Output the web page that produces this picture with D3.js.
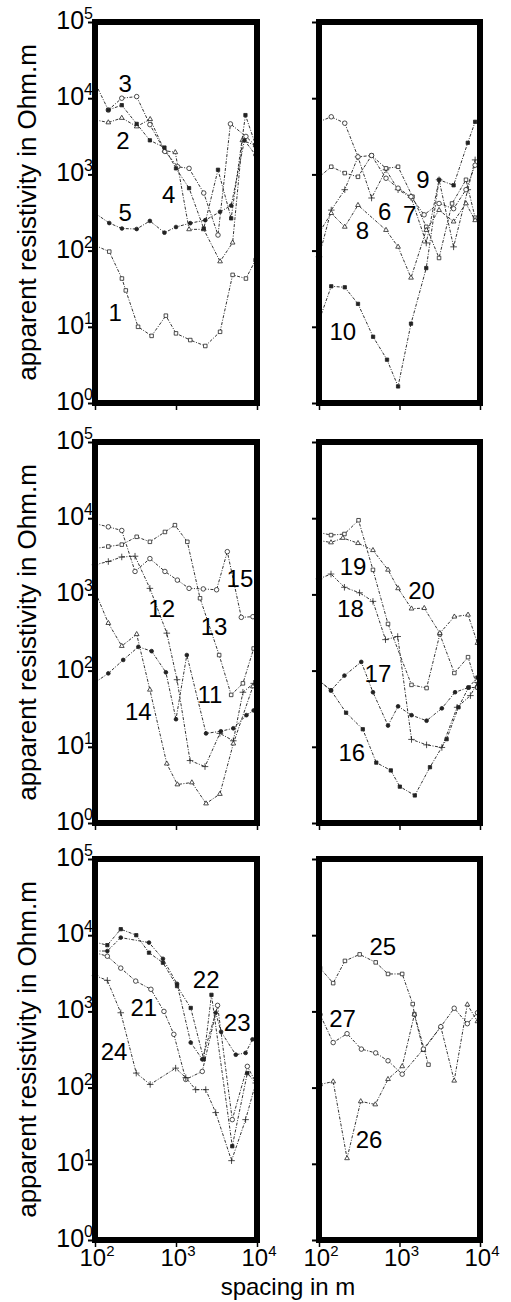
<!DOCTYPE html>
<html>
<head>
<meta charset="utf-8">
<script src="https://cdn.jsdelivr.net/npm/d3@7"></script>
<style>
  body { margin: 0; background: #fff; }
  text { font-family: "Liberation Sans", Arial, sans-serif; fill: #000; }
</style>
</head>
<body>
<div id="chart"></div>
<script>
/* apparent resistivity vs spacing, six log-log panels */

// axis ticks
const yTicks = [1, 10, 100, 1000, 10000, 100000];
const yTickExp = ["0", "1", "2", "3", "4", "5"];
const xTicks = [100, 1000, 10000];
const xTickExp = ["2", "3", "4"];

// [spacing in m, apparent resistivity in Ohm.m]
const curve1 = [[100,117],[150,97],[215,43],[240,30],[340,10],[500,7.6],[750,14],[1000,8.2],[1500,6.7],[2300,5.6],[3500,8.6],[5000,48],[7300,43],[9600,75]];
const curve2 = [[100,5200],[146,4800],[214,5500],[327,4250],[480,5300],[720,2050],[980,1950],[1450,190],[2200,190],[3500,72],[5000,127],[6600,2800],[9600,2400]];
const curve3 = [[100,16000],[146,7000],[214,10000],[327,10500],[476,4500],[730,2000],[1050,1260],[1450,1200],[2200,570],[3300,160],[4700,4600],[7300,3150],[9900,2300]];
const curve4 = [[146,7000],[214,8100],[327,4600],[476,2800],[720,2250],[1000,1200],[1450,660],[2200,195],[3300,1150],[4800,265],[7200,6000],[9600,2450]];
const curve5 = [[100,310],[150,230],[215,195],[327,192],[476,245],[720,172],[1000,204],[1500,229],[2300,251],[3500,323],[4800,390],[7000,2800],[9600,1800]];

const curve6 = [[100,83],[142,340],[209,630],[305,1700],[450,490],[680,1150],[960,630],[1390,500],[2150,126],[3100,850],[4700,112],[7050,630],[8700,1550]];
const curve7 = [[100,920],[142,1260],[209,1040],[305,930],[450,1770],[680,1200],[960,1260],[1450,510],[2150,205],[3100,80],[4500,415],[6700,850],[8700,270]];
const curve8 = [[100,170],[142,310],[209,205],[305,395],[680,186],[960,112],[1390,44],[2150,186],[3100,340],[4700,240],[6700,415],[8700,250]];
const curve9 = [[100,4900],[142,5700],[209,4700],[305,1700],[450,1770],[680,890],[960,660],[1390,510],[2020,295],[3100,415],[4700,355],[6700,630],[8700,1320]];
const curve10 = [[100,12],[142,34],[209,33],[305,20],[470,7.4],[700,3.7],[960,1.65],[1390,11],[2150,59],[3100,850],[4700,720],[7050,2600],[8700,4900]];

const curve11 = [[100,70],[146,92],[223,138],[343,205],[500,180],[750,95],[1000,23],[1360,160],[2350,15],[3580,16],[5100,17.5],[7400,26],[9100,30]];
const curve12 = [[100,2450],[146,2700],[214,3100],[312,3170],[476,1200],[770,310],[1030,76],[1490,6.6],[2280,5.5],[3480,15],[5100,12],[6700,52],[9100,68]];
const curve13 = [[100,4000],[146,4250],[214,4500],[327,5700],[476,4900],[730,6600],[970,8100],[1380,4900],[1980,890],[3410,160],[4800,48],[6700,68],[9100,195]];
const curve14 = [[100,1100],[146,420],[214,210],[327,300],[476,56],[770,6.0],[1040,3.2],[1570,3.4],[2350,1.8],[3480,2.4],[5100,11],[8900,62]];
const curve15 = [[100,8500],[146,7700],[214,6900],[312,2000],[476,2950],[730,2000],[1040,1540],[1450,1200],[2170,1180],[3170,1150],[4300,3640],[6400,500],[8900,510]];

const curve16 = [[100,74],[141,55],[217,28],[350,17],[515,6.2],[780,4.9],[1010,3.0],[1550,2.3],[2390,5.4],[3850,12.6],[5400,33],[7200,60],[9300,81]];
const curve17 = [[100,74],[141,55],[207,86],[335,130],[468,52],[720,19],[960,34],[1410,26],[2170,22],[3360,32],[4900,52],[7200,60],[9300,60]];
const curve18 = [[100,1600],[141,1850],[207,1240],[319,1050],[468,810],[670,255],[950,280],[1410,12.5],[2170,10.6],[3360,9.8],[5200,33],[7600,47],[9300,70]];
const curve19 = [[100,6500],[141,6000],[207,6200],[310,9400],[468,2100],[720,410],[1410,65],[2170,59],[3170,300],[4800,93],[7100,150],[9300,60]];
const curve20 = [[100,5100],[141,4800],[198,5500],[305,4700],[468,3800],[720,2100],[960,1200],[1410,650],[2030,660],[3170,310],[4800,510],[7100,540],[9300,230]];

const curve21 = [[100,5900],[142,5300],[208,3700],[318,2500],[490,1950],[710,1000],[940,500],[1320,128],[2110,163],[3260,1200],[4950,38],[7600,190],[10000,110]];
const curve22 = [[100,8100],[142,7400],[208,12000],[323,10000],[464,5900],[690,4350],[1030,2150],[1520,1110],[2200,235],[2740,1650],[4950,17],[7600,155],[10000,110]];
const curve23 = [[100,6200],[142,6200],[208,9300],[464,8000],[690,4900],[1030,2300],[1520,390],[2110,235],[3090,960],[3600,540],[5470,270],[7230,285],[8800,430]];
const curve24 = [[100,2950],[142,2550],[208,960],[323,155],[480,110],[990,180],[1320,135],[1750,94],[2330,94],[3090,47],[4850,11],[7230,38],[9650,115]];

const curve25 = [[103,3700],[150,2350],[210,4600],[320,5600],[506,4400],[720,3100],[1080,3100],[1460,1250],[1530,920],[2290,200]];
const curve26 = [[103,110],[150,120],[223,11.8],[330,66],[500,60],[720,129],[1080,190],[1530,910],[1980,310],[3260,630],[4780,123],[6960,1230],[9300,740]];
const curve27 = [[103,910],[150,390],[223,510],[336,320],[506,285],[720,225],[1080,150],[1980,320],[3260,630],[4780,1100],[6960,690],[9300,960]];

// curve number labels, placed in data coordinates [spacing, resistivity]
const curveLabels = [
  ["1", 177, 15.5], ["2", 222, 2800], ["3", 235, 15400], ["4", 815, 540], ["5", 235, 320],
  ["6", 655, 323], ["7", 1340, 302], ["8", 346, 186], ["9", 1950, 870], ["10", 198, 8.7],
  ["11", 2630, 48], ["12", 665, 660], ["13", 2950, 380], ["14", 343, 29], ["15", 6150, 1630],
  ["16", 256, 8.4], ["17", 540, 91], ["18", 246, 650], ["19", 265, 2340], ["20", 1880, 1120],
  ["21", 400, 1120], ["22", 2360, 2630], ["23", 5700, 720], ["24", 172, 300],
  ["25", 620, 7200], ["26", 418, 21], ["27", 196, 815]
];

const panels = [
  { col: 0, row: 0, curves: [["1", curve1], ["2", curve2], ["3", curve3], ["4", curve4], ["5", curve5]] },
  { col: 1, row: 0, curves: [["6", curve6], ["7", curve7], ["8", curve8], ["9", curve9], ["10", curve10]] },
  { col: 0, row: 1, curves: [["11", curve11], ["12", curve12], ["13", curve13], ["14", curve14], ["15", curve15]] },
  { col: 1, row: 1, curves: [["16", curve16], ["17", curve17], ["18", curve18], ["19", curve19], ["20", curve20]] },
  { col: 0, row: 2, curves: [["21", curve21], ["22", curve22], ["23", curve23], ["24", curve24]] },
  { col: 1, row: 2, curves: [["25", curve25], ["26", curve26], ["27", curve27]] }
];

const width = 511, height = 1302;
const colX = [[95, 257], [319, 480]];
const rowY = [[22, 403], [442, 823], [859, 1240]];

// marker per curve (cycled)
const markerTypes = [
  { s: d3.symbolPlus, open: true },
  { s: d3.symbolSquare2, open: true },
  { s: d3.symbolTriangle2, open: true },
  { s: d3.symbolCircle, open: true },
  { s: d3.symbolSquare, open: false },
  { s: d3.symbolCircle, open: false }
];

const svg = d3.select("#chart")
  .append("svg")
  .attr("width", width)
  .attr("height", height)
  .attr("viewBox", [0, 0, width, height]);

svg.append("rect").attr("width", width).attr("height", height).attr("fill", "#fff");

panels.forEach(p => {
  const [x0, x1] = colX[p.col];
  const [y0, y1] = rowY[p.row];

  const x = d3.scaleLog().domain([100, 10000]).range([x0, x1]);
  const y = d3.scaleLog().domain([1, 100000]).range([y1, y0]);

  const g = svg.append("g");

  // ticks only, labels drawn by hand (superscripts)
  g.append("g")
    .attr("transform", `translate(${x0},0)`)
    .call(d3.axisLeft(y).tickValues(yTicks).tickSize(7).tickFormat(""))
    .call(a => a.select(".domain").remove())
    .selectAll("line").attr("stroke", "#000").attr("stroke-width", 2);

  g.append("g")
    .attr("transform", `translate(0,${y1})`)
    .call(d3.axisBottom(x).tickValues(xTicks).tickSize(7).tickFormat(""))
    .call(a => a.select(".domain").remove())
    .selectAll("line").attr("stroke", "#000").attr("stroke-width", 1.5);

  const line = d3.line()
    .x(d => x(d[0]))
    .y(d => y(d[1]));

  p.curves.forEach(([name, data]) => {
    g.append("path")
      .datum(data)
      .attr("d", line)
      .attr("fill", "none")
      .attr("stroke", "#333")
      .attr("stroke-width", 1)
      .attr("stroke-dasharray", "3,1.5,1,1.5");

    const m = markerTypes[(+name) % markerTypes.length];
    g.selectAll(null)
      .data(data)
      .join("path")
      .attr("transform", d => `translate(${x(d[0])},${y(d[1])})`)
      .attr("d", d3.symbol(m.s, m.open ? 16 : 11))
      .attr("fill", m.open ? "#fff" : "#222")
      .attr("stroke", "#222")
      .attr("stroke-width", 0.8);
  });

  // curve numbers
  const names = p.curves.map(c => c[0]);
  g.selectAll(null)
    .data(curveLabels.filter(l => names.includes(l[0])))
    .join("text")
    .attr("x", d => x(d[1]))
    .attr("y", d => y(d[2]))
    .attr("text-anchor", "middle")
    .attr("dominant-baseline", "central")
    .attr("font-size", 24)
    .text(d => d[0]);

  // frame
  g.append("rect")
    .attr("x", x0).attr("y", y0)
    .attr("width", x1 - x0).attr("height", y1 - y0)
    .attr("fill", "none")
    .attr("stroke", "#000")
    .attr("stroke-width", 6);

  // y tick labels on left column
  if (p.col === 0) {
    yTicks.forEach((t, i) => {
      const tx = g.append("text")
        .attr("x", x0 - 2)
        .attr("y", y(t) + 7)
        .attr("text-anchor", "end")
        .attr("font-size", 25);
      tx.append("tspan").text("10");
      tx.append("tspan").attr("font-size", 16).attr("dy", -10).text(yTickExp[i]);
    });

    g.append("text")
      .attr("transform", `translate(36,${(y0 + y1) / 2}) rotate(-90)`)
      .attr("text-anchor", "middle")
      .attr("font-size", 26)
      .text("apparent resistivity in Ohm.m");
  }

  // x tick labels on bottom row
  if (p.row === 2) {
    xTicks.forEach((t, i) => {
      const tx = g.append("text")
        .attr("x", x(t) + 2)
        .attr("y", y1 + 26)
        .attr("text-anchor", "middle")
        .attr("font-size", 24);
      tx.append("tspan").text("10");
      tx.append("tspan").attr("font-size", 15).attr("dy", -10).text(xTickExp[i]);
    });
  }
});

svg.append("text")
  .attr("x", 288)
  .attr("y", 1295)
  .attr("text-anchor", "middle")
  .attr("font-size", 24)
  .text("spacing in m");
</script>
</body>
</html>
